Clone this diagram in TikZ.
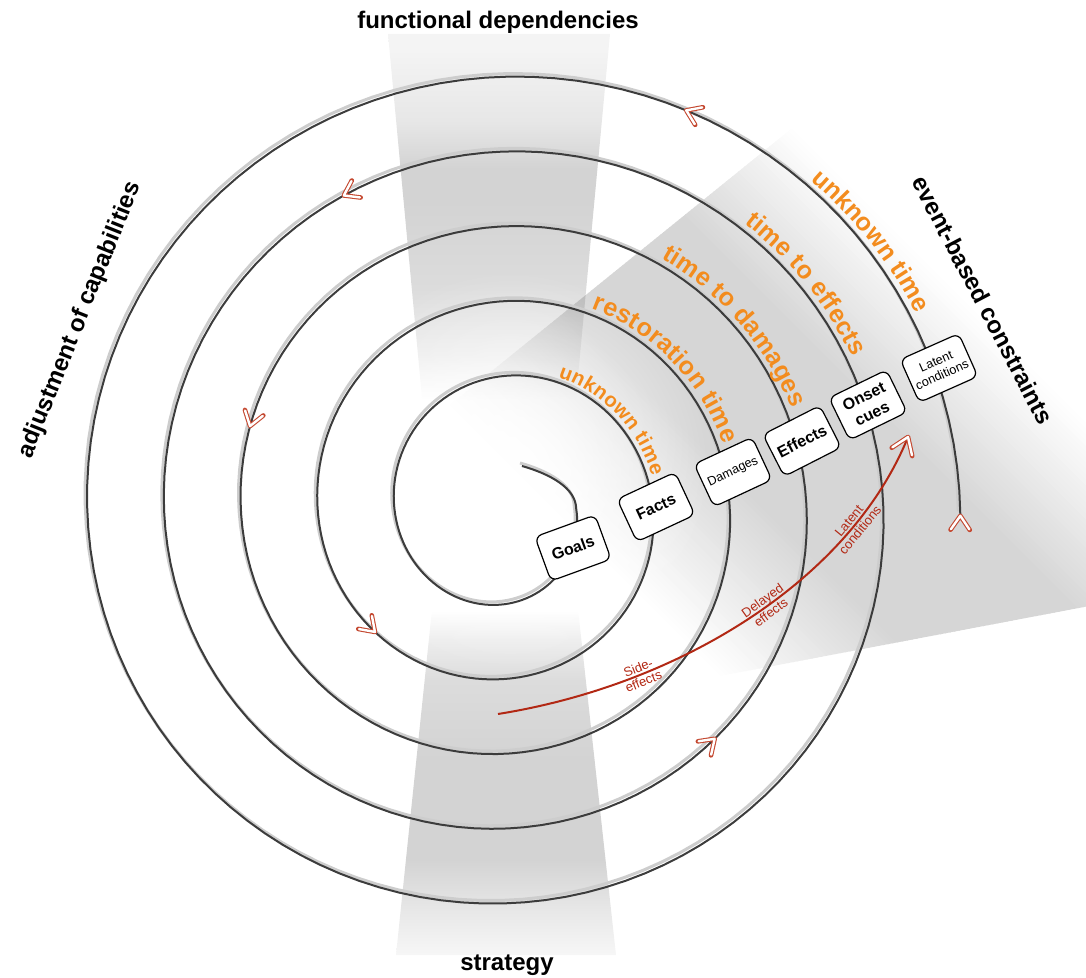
\documentclass[tikz,border=0pt]{standalone}
\usepackage{fontspec}
\setmainfont{Liberation Sans}
\usetikzlibrary{calc,decorations.text,fadings}

\definecolor{ringline}{RGB}{60,60,60}
\definecolor{ringshade}{RGB}{205,205,205}
\definecolor{bandgray}{RGB}{211,211,211}
\definecolor{timeorange}{RGB}{243,140,30}
\definecolor{tipred}{RGB}{196,72,48}
\definecolor{effectred}{RGB}{178,40,20}

\pgfdeclareverticalshading{upperband}{100bp}{color(0bp)=(white); color(28.8bp)=(white);
    color(34.5bp)=(bandgray!45!white); color(43bp)=(bandgray!80!white); color(54bp)=(bandgray);
    color(58bp)=(bandgray); color(64bp)=(bandgray!55!white); color(73bp)=(bandgray!25!white);
    color(100bp)=(bandgray!20!white)}
\pgfdeclareverticalshading{lowerband}{100bp}{color(0bp)=(bandgray!20!white); color(25bp)=(bandgray!20!white);
    color(31.5bp)=(bandgray!55!white); color(38.5bp)=(bandgray); color(52.5bp)=(bandgray);
    color(63.5bp)=(bandgray!80!white); color(69.5bp)=(bandgray!40!white); color(73.5bp)=(white);
    color(100bp)=(white)}
\tikzfading[name=centreglow, inner color=transparent!0, outer color=transparent!100]

\newcommand\ringfont{\bfseries\fontsize{12.6}{14}\selectfont}
\newcommand\innerfont{\bfseries\fontsize{10.2}{12}\selectfont}

\tikzset{
    ringpath/.style={line width=1pt, ringline},
    ringglow/.style={line width=1.5pt, ringshade, shift={(-2,-3)}}, % light line beside the spiral
    stagebox/.style={draw, line width=0.6pt, rounded corners=3.5pt, fill=white,
        minimum width=32pt, minimum height=23.5pt, align=center, inner sep=1pt},
    bigstage/.style={stagebox, font=\bfseries\fontsize{8}{9.5}\selectfont},
    smallstage/.style={stagebox, font=\fontsize{6.3}{7.4}\selectfont},
    axislabel/.style={font=\bfseries\fontsize{12}{14}\selectfont},
    effectline/.style={effectred, line width=1pt},
    effectnote/.style={sloped, align=center, text=effectred, inner sep=0pt,
        font=\fontsize{6.5}{7.2}\selectfont},
    ringlabel/.style={decorate, decoration={text along path, text align=center,
        raise=3pt, text color=timeorange, text={|\ringfont|#1}}},
    innerlabel/.style={decorate, decoration={text along path, text align=center,
        raise=2.5pt, text color=timeorange, text={|\innerfont|#1}}},
    flowtip/.pic={
        \draw[tipred, line width=2.3pt, line cap=round, line join=round] (-7pt,4.8pt) -- (0,0) -- (-7pt,-4.8pt);
        \draw[white, line width=1.2pt, line cap=round, line join=round] (-6.7pt,4.6pt) -- (0,0) -- (-6.7pt,-4.6pt);
    },
}

\begin{document}
\begin{tikzpicture}[x=0.5pt, y=-0.5pt,
        declare function={spx(\s)=504.5+(71.7+19.2*\s)*cos(90*\s);
                          spy(\s)=508.75+(76.75+18.7*\s)*sin(90*\s);}]
    \useasboundingbox (0,0) rectangle (1086,978);
    \clip (0,0) rectangle (1086,978);

    % shaded sectors
    \begin{scope}
        \clip (440,413) -- (1000,-40) -- (1200,-40) -- (1200,585) -- (720,676) -- cycle;
        \foreach \v in {0,4,...,436} {
            \pgfmathtruncatemacro\f{92*min(1,\v/150,(440-\v)/140)}
            \fill[bandgray!\f!white] ({560+0.7071*(\v-700)},{520-0.7071*(\v+700)})
                -- ({560+0.7071*(\v+700)},{520+0.7071*(700-\v)})
                -- ({560+0.7071*(\v+705)},{520+0.7071*(695-\v)})
                -- ({560+0.7071*(\v-695)},{520-0.7071*(\v+705)}) -- cycle;
        }
    \end{scope}
    \shade[shading=upperband, blend mode=multiply] (388,34) -- (610,34) -- (573,430) -- (425,430) -- cycle;
    \shade[shading=lowerband, blend mode=multiply] (433,600) -- (577,600) -- (616,955) -- (396,955) -- cycle;
    \fill[white, path fading=centreglow] (510,470) circle [radius=200];

    % spiral
    \foreach \sty in {ringglow,ringpath}
        \draw[\sty] (522,466) .. controls (550,474) and (576,488) .. ({spx(0)},{spy(0)})
            -- plot[domain=0:20.01, samples=600] ({spx(\x)},{spy(\x)});
    \foreach \s in {5.52,10.2,12.53,14.7,19.27,20.01}
        \path let \p1=({spx(\s)},{spy(\s)}), \p2=({spx(\s+0.03)},{spy(\s+0.03)}),
                  \n1={atan2(\y1-\y2,\x1-\x2)} in (\p1) pic[rotate=\n1] {flowtip};

    \path[innerlabel={unknown time}] plot[domain=3.17:3.94, samples=40] ({spx(\x)},{spy(\x)});
    \path[ringlabel={restoration time}] plot[domain=7.17:7.91, samples=40] ({spx(\x)},{spy(\x)});
    \path[ringlabel={time to damages}] plot[domain=11.26:11.88, samples=40] ({spx(\x)},{spy(\x)});
    \path[ringlabel={time to effects}] plot[domain=15.35:15.83, samples=40] ({spx(\x)},{spy(\x)});
    \path[ringlabel={unknown time}] plot[domain=19.40:19.79, samples=40] ({spx(\x)},{spy(\x)});

    % stages
    \node[bigstage, rotate=20] (goals) at (573,548) {Goals};
    \node[bigstage, rotate=25] (facts) at (656,507) {Facts};
    \node[smallstage, rotate=25] (damages) at (733,472) {Damages};
    \node[bigstage, rotate=27] (effects) at (802,441) {Effects};
    \node[bigstage, rotate=26] (onset) at (868,405) {Onset\\cues};
    \node[smallstage, rotate=24] (latent) at (939,368) {Latent\\conditions};

    % effects curve
    \coordinate (sidestart) at (498,714);
    \coordinate (sidectrl) at (850,580);
    \coordinate (sidetip) at (908,437);
    \draw[effectline] (sidestart) .. controls (680,685) and (sidectrl) .. (sidetip)
        node[effectnote, pos=0.27] (sidenote) {Side-\\effects}
        node[effectnote, pos=0.54] (delaynote) {Delayed\\effects}
        node[effectnote, pos=0.78] (latentnote) {Latent\\conditions};
    \path let \p1=(sidetip), \p2=(sidectrl), \n1={atan2(\y1-\y2,\x1-\x2)}
        in (sidetip) pic[rotate=\n1, scale=1.15] {flowtip};

    \node[axislabel] (funcdep) at (498,22) {functional dependencies};
    \node[axislabel] (strategy) at (507,965) {strategy};
    \node[axislabel, rotate=68.2] (adjust) at (80,320) {adjustment of capabilities};
    \node[axislabel, rotate=-62.4] (eventcons) at (983,300) {event-based constraints};
\end{tikzpicture}
\end{document}
